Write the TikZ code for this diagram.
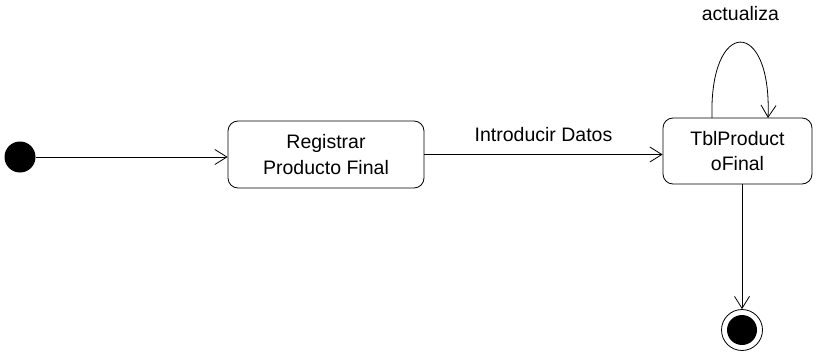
\documentclass[tikz,border=0pt]{standalone}
\usepackage{fontspec}
\setmainfont{Liberation Sans}
\usetikzlibrary{arrows.meta}
\begin{document}
\begin{tikzpicture}[x=1pt,y=-1pt,
  every node/.style={font=\fontsize{19.5}{25.5}\selectfont},
  state/.style={draw,rounded corners=10pt,line width=0.8pt,align=center,inner sep=0pt},
  conn/.style={line width=0.8pt,-{Straight Barb[length=12pt,width=15pt,line width=0.8pt]}}]
\useasboundingbox (0,0) rectangle (817,353);
\node[circle,fill=black,minimum size=31pt,inner sep=0pt] (ini) at (20,157) {};
\node[state,minimum width=196pt,minimum height=67pt] (b1) at (326,154.5) {Registrar\\Producto Final};
\node[state,minimum width=149pt,minimum height=66pt] (b2) at (737.5,151) {TblProduct\\oFinal};
\node[circle,draw,line width=0.8pt,minimum size=41pt,inner sep=0pt] (fin) at (742,330) {};
\node[circle,fill=black,minimum size=30pt,inner sep=0pt] (finin) at (fin) {};
\draw[conn] (ini) -- (ini -| b1.west);
\draw[conn] (b1.east) -- node[above=9pt] (l1) {Introducir Datos} (b1.east -| b2.west);
\coordinate (ls) at (712,118);
\coordinate (le) at (768,118);
\draw[conn] (ls) .. controls (709,17) and (772,17) .. node[above=18pt] (l2) {actualiza} (le);
\draw[conn] (fin.north |- b2.south) -- (fin.north);
\end{tikzpicture}
\end{document}
